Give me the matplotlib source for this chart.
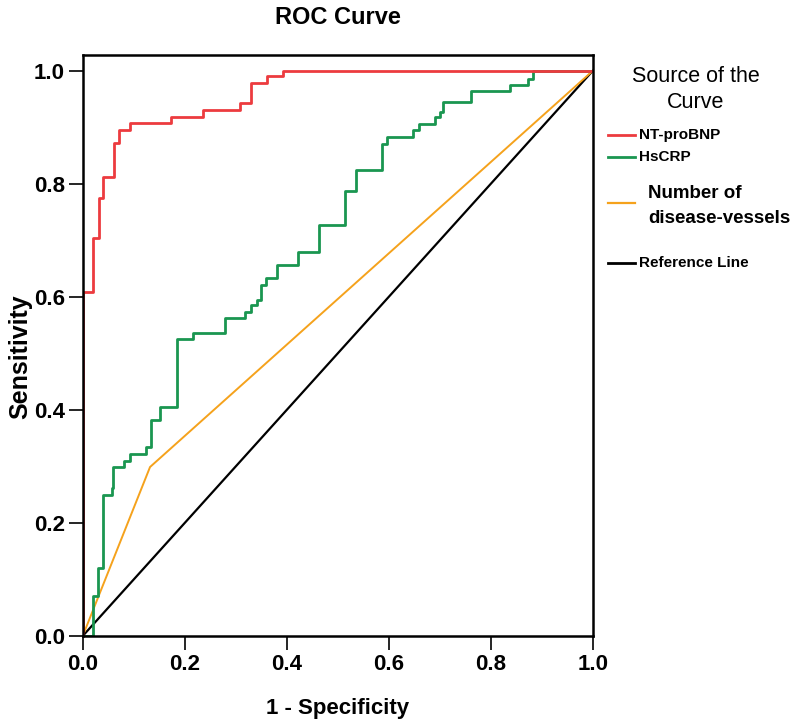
import matplotlib
matplotlib.use("Agg")
import matplotlib.pyplot as plt
from matplotlib.lines import Line2D

plt.rcParams["font.family"] = ["Liberation Sans", "DejaVu Sans"]

# ROC points (1 - specificity, sensitivity), drawn as steps
nt_fpr = [0.0, 0.0, 0.021, 0.031, 0.040, 0.061, 0.071, 0.093, 0.174, 0.236,
          0.308, 0.330, 0.361, 0.392, 1.0]
nt_tpr = [0.0, 0.608, 0.704, 0.775, 0.812, 0.872, 0.896, 0.907, 0.919, 0.931,
          0.944, 0.979, 0.991, 1.0, 1.0]

crp_fpr = [0.0, 0.020, 0.029, 0.040, 0.057, 0.060, 0.080, 0.093, 0.124, 0.133,
           0.152, 0.184, 0.217, 0.278, 0.318, 0.329, 0.341, 0.350, 0.360, 0.381,
           0.423, 0.463, 0.514, 0.535, 0.587, 0.597, 0.648, 0.659, 0.691, 0.700,
           0.707, 0.762, 0.838, 0.874, 0.882, 1.0]
crp_tpr = [0.0, 0.071, 0.120, 0.250, 0.261, 0.299, 0.310, 0.322, 0.334, 0.382,
           0.405, 0.526, 0.537, 0.562, 0.573, 0.585, 0.595, 0.621, 0.633, 0.657,
           0.680, 0.728, 0.788, 0.824, 0.870, 0.883, 0.895, 0.906, 0.918, 0.927,
           0.945, 0.965, 0.975, 0.986, 1.0, 1.0]

ves_fpr = [0.0, 0.132, 1.0]
ves_tpr = [0.0, 0.299, 1.0]

ref_x = [0.0, 1.0]
ref_y = [0.0, 1.0]

ticks = [0.0, 0.2, 0.4, 0.6, 0.8, 1.0]

RED = "#ec3b3f"
GREEN = "#1a9650"
ORANGE = "#f5a21c"

fig = plt.figure(figsize=(8, 7.28), dpi=100)
ax = fig.add_axes([0.1034, 0.1264, 0.6375, 0.798])

ax.plot(ref_x, ref_y, color="black", lw=1.6, zorder=2)
ax.plot(ves_fpr, ves_tpr, color=ORANGE, lw=1.4, zorder=3)
ax.plot(crp_fpr, crp_tpr, color=GREEN, lw=2.0, drawstyle="steps-post", zorder=4)
ax.plot(nt_fpr, nt_tpr, color=RED, lw=2.0, drawstyle="steps-post", zorder=5)

ax.set_xlim(0, 1.0)
ax.set_ylim(0, 1.028)
ax.set_xticks(ticks)
ax.set_yticks(ticks)
ax.set_xticklabels([f"{t:.1f}" for t in ticks], fontsize=16, fontweight="bold")
ax.set_yticklabels([f"{t:.1f}" for t in ticks], fontsize=16, fontweight="bold")
ax.tick_params(direction="out", length=10, width=1.2, pad=3)
for sp in ax.spines.values():
    sp.set_linewidth(1.8)
    sp.set_zorder(6)

ax.set_xlabel("1 - Specificity", fontsize=16, fontweight="bold")
ax.xaxis.set_label_coords(0.5, -0.106)
ax.set_ylabel("Sensitivity", fontsize=18, fontweight="bold")
ax.yaxis.set_label_coords(-0.099, 0.48)
ax.text(0.5, 1.065, "ROC Curve", transform=ax.transAxes, ha="center",
        va="center", fontsize=17, fontweight="bold")

# legend, drawn by hand in pixel positions
W, H = 800.0, 728.0


def fx(px):
    return px / W


def fy(py):
    return 1 - py / H


fig.text(fx(696), fy(77), "Source of the", ha="center", va="center", fontsize=15.5)
fig.text(fx(696), fy(102), "Curve", ha="center", va="center", fontsize=15.5)

entries = [
    (RED, 2.0, 135, 639, ["NT-proBNP"], 11),
    (GREEN, 2.0, 157, 639, ["HsCRP"], 11),
    (ORANGE, 1.6, 203, 648, ["Number of", "disease-vessels"], 13.5),
    ("black", 2.0, 263, 639, ["Reference Line"], 11),
]
for col, lw, ly, tx, lines, fs in entries:
    fig.add_artist(Line2D([fx(608), fx(635)], [fy(ly), fy(ly)], color=col, lw=lw,
                          transform=fig.transFigure))
    if len(lines) == 1:
        fig.text(fx(tx), fy(ly), lines[0], ha="left", va="center", fontsize=fs,
                 fontweight="bold")
    else:
        fig.text(fx(tx), fy(ly - 9), lines[0], ha="left", va="center", fontsize=fs,
                 fontweight="bold")
        fig.text(fx(tx), fy(ly + 15), lines[1], ha="left", va="center", fontsize=fs,
                 fontweight="bold")

fig.savefig("out.png", dpi=100)
